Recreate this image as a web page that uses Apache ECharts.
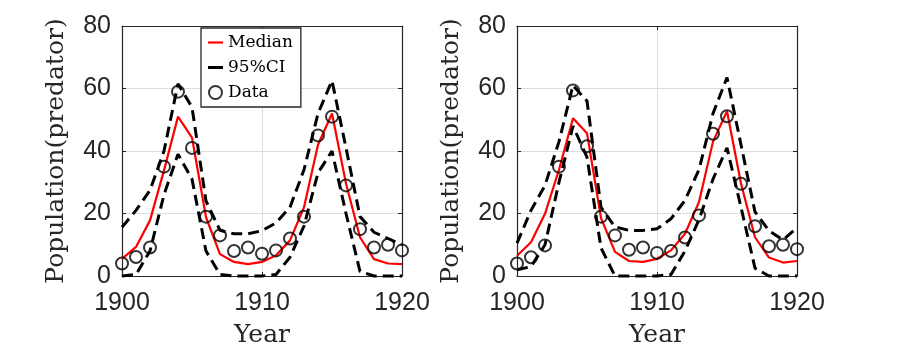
<!DOCTYPE html>
<html>
<head>
<meta charset="utf-8">
<script src="https://cdn.jsdelivr.net/npm/echarts@6/dist/echarts.min.js"></script>
<style>
  html, body { margin: 0; padding: 0; background: #ffffff; }
  #main { width: 897px; height: 359px; }
</style>
</head>
<body>
<div id="main"></div>
<script>
var years = [1900, 1901, 1902, 1903, 1904, 1905, 1906, 1907, 1908, 1909, 1910,
  1911, 1912, 1913, 1914, 1915, 1916, 1917, 1918, 1919, 1920];

// left panel
var leftData = [4, 6.1, 9.1, 35, 59, 41, 19, 13, 8, 9.1, 7.1, 8.2, 12, 19, 45, 51, 29, 15, 9.1, 10, 8.2];
var leftMedian = [5.5, 9.3, 17.8, 33.8, 51, 44.3, 18.8, 7, 4.5, 3.8, 4.5, 6.6, 11.4, 22, 42, 52, 29.6, 12.4, 5.4, 4, 3.8];
var leftUpper = [15.6, 21, 27.4, 40, 61.5, 54, 24, 14.6, 13.5, 13.5, 14.5, 17, 22, 34, 52, 62.5, 41, 19, 14, 12, 10];
var leftLower = [0, 0.5, 8, 26, 39, 31, 8, 0.5, 0, 0, 0, 0.5, 6, 16, 33, 40, 20, 1.5, 0, 0, 0];

// right panel
var rightData = [4, 6, 9.8, 35, 59.4, 41.5, 19, 13, 8.4, 9.1, 7.4, 8, 12.3, 19.4, 45.5, 51.1, 29.5, 15.9, 9.5, 10, 8.6];
var rightMedian = [6.5, 10.8, 19.9, 34, 50.5, 45.7, 18.5, 7.7, 4.8, 4.5, 5.5, 8.2, 13.5, 23.7, 43, 52.7, 29.6, 12.4, 5.9, 4.3, 4.8];
var rightUpper = [10.5, 21, 29, 43, 61, 56, 22, 15.7, 14.6, 14.6, 15.1, 18.3, 24.2, 34, 52, 63.5, 42, 20.5, 14.5, 11.5, 15.5];
var rightLower = [2, 3, 10, 30, 48, 38, 9, 0, 0, 0, 0, 0.5, 8, 18, 31, 41, 22, 2.5, 0, 0, 0];

var xTicks = [1900, 1910, 1920];
var yTicks = [0, 20, 40, 60, 80];

var axisColor = '#262626';
var tickFont = 'Liberation Sans';
var nameFont = 'DejaVu Serif';

function pairs(ys) {
  var out = [];
  for (var i = 0; i < years.length; i++) {
    out.push([years[i], ys[i]]);
  }
  return out;
}

function xAxisFor(grid, top) {
  return {
    type: 'value', gridIndex: grid, position: top ? 'top' : 'bottom',
    min: xTicks[0], max: xTicks[xTicks.length - 1], interval: 10,
    name: top ? '' : 'Year', nameLocation: 'middle', nameGap: 47,
    nameTextStyle: { fontFamily: nameFont, fontSize: 25, color: axisColor },
    axisLine: { show: true, onZero: false, lineStyle: { color: axisColor, width: 1.2 } },
    axisTick: { show: true, inside: true, length: 4, lineStyle: { color: axisColor } },
    axisLabel: {
      show: !top, margin: 15, fontFamily: tickFont, fontSize: 25, color: axisColor,
      formatter: function(v) { return String(v); }
    },
    splitLine: { show: !top, lineStyle: { color: '#dcdcdc', width: 1 } }
  };
}

function yAxisFor(grid, right) {
  return {
    type: 'value', gridIndex: grid, position: right ? 'right' : 'left',
    min: yTicks[0], max: yTicks[yTicks.length - 1], interval: 20,
    name: right ? '' : 'Population(predator)', nameLocation: 'middle', nameGap: 53,
    nameTextStyle: { fontFamily: nameFont, fontSize: 25, color: axisColor },
    axisLine: { show: true, onZero: false, lineStyle: { color: axisColor, width: 1.2 } },
    axisTick: { show: true, inside: true, length: 4, lineStyle: { color: axisColor } },
    axisLabel: { show: !right, margin: 11, fontFamily: tickFont, fontSize: 25, color: axisColor },
    splitLine: { show: !right, lineStyle: { color: '#dcdcdc', width: 1 } }
  };
}

function panelSeries(xi, yi, med, up, low, dat) {
  var dash = { color: '#000000', width: 3, type: [11, 6] };
  return [{
    name: 'Median', type: 'line', xAxisIndex: xi, yAxisIndex: yi,
    data: pairs(med), symbol: 'none', clip: false, z: 3,
    itemStyle: { color: '#ff0000' },
    lineStyle: { color: '#ff0000', width: 2.2 }
  }, {
    name: '95%CI', type: 'line', xAxisIndex: xi, yAxisIndex: yi,
    data: pairs(up), symbol: 'none', clip: false, z: 4,
    itemStyle: { color: '#000000' }, lineStyle: dash
  }, {
    name: '95%CI', type: 'line', xAxisIndex: xi, yAxisIndex: yi,
    data: pairs(low), symbol: 'none', clip: false, z: 4,
    itemStyle: { color: '#000000' }, lineStyle: dash
  }, {
    name: 'Data', type: 'scatter', xAxisIndex: xi, yAxisIndex: yi,
    data: pairs(dat), symbol: 'circle', symbolSize: 12, clip: false, z: 5,
    itemStyle: { color: 'rgba(0,0,0,0)', borderColor: '#000000', borderWidth: 2 }
  }];
}

var chart = echarts.init(document.getElementById('main'), null, { renderer: 'canvas' });

var series = panelSeries(0, 0, leftMedian, leftUpper, leftLower, leftData)
  .concat(panelSeries(2, 2, rightMedian, rightUpper, rightLower, rightData));

chart.setOption({
  backgroundColor: '#ffffff',
  animation: false,
  grid: [
    { left: 122, top: 26, width: 280, height: 250 },
    { left: 517, top: 26, width: 280, height: 250 }
  ],
  xAxis: [xAxisFor(0, false), xAxisFor(0, true), xAxisFor(1, false), xAxisFor(1, true)],
  yAxis: [yAxisFor(0, false), yAxisFor(0, true), yAxisFor(1, false), yAxisFor(1, true)],
  legend: {
    left: 201, top: 28, orient: 'vertical',
    backgroundColor: '#ffffff', borderColor: axisColor, borderWidth: 1.3,
    padding: [6, 8, 6, 7], itemGap: 8, itemWidth: 15, itemHeight: 13,
    textStyle: { fontFamily: nameFont, fontSize: 17, color: '#000000' },
    data: [
      { name: 'Median', icon: 'path://M0,0h15v2.2h-15z', itemStyle: { color: '#ff0000', borderWidth: 0 } },
      { name: '95%CI', icon: 'path://M0,0h15v3h-15z', itemStyle: { color: '#000000', borderWidth: 0 } },
      { name: 'Data', icon: 'circle', itemStyle: { color: 'rgba(0,0,0,0)', borderColor: '#000000', borderWidth: 2 } }
    ]
  },
  series: series
});
</script>
</body>
</html>
